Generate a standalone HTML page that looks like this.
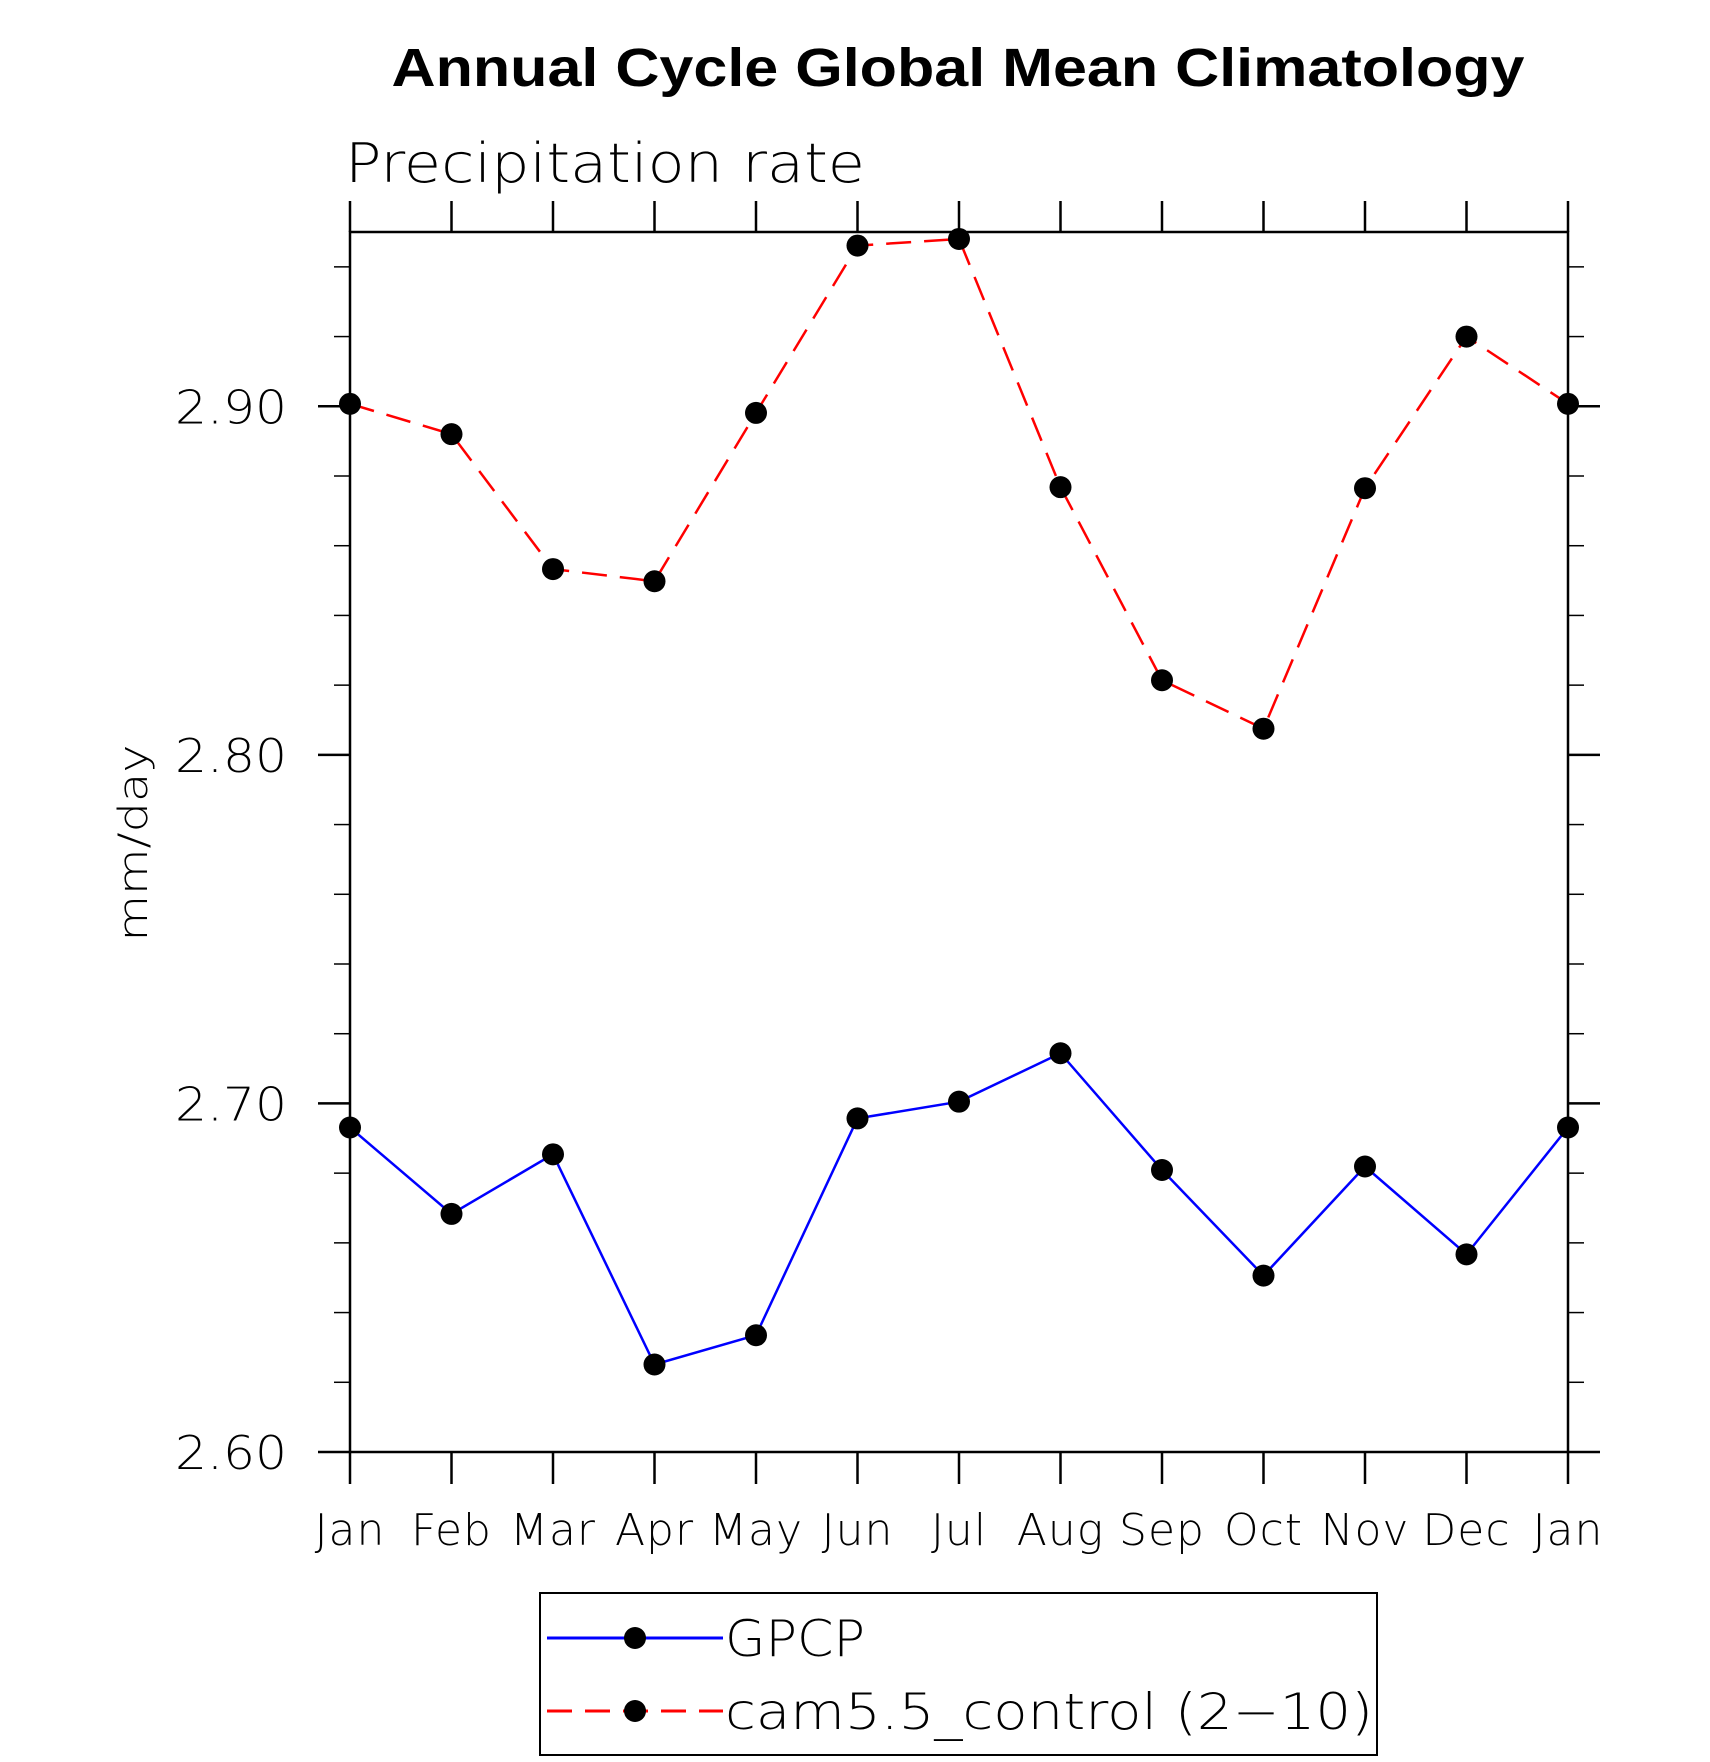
<!DOCTYPE html>
<html><head><meta charset="utf-8"><style>
html,body{margin:0;padding:0;background:#fff;}
svg{display:block;}
text{font-family:"Liberation Sans","DejaVu Sans",sans-serif;}
.thin{font-family:"DejaVu Sans","Liberation Sans",sans-serif;font-weight:200;}
</style></head><body>
<svg id="chart" width="1710" height="1762" viewBox="0 0 1710 1762" xmlns="http://www.w3.org/2000/svg">
<text x="958" y="86" text-anchor="middle" font-size="54" font-weight="bold" textLength="1133" lengthAdjust="spacingAndGlyphs">Annual Cycle Global Mean Climatology</text>
<text class="thin" x="345" y="182" font-size="54" fill="#000" textLength="520" lengthAdjust="spacingAndGlyphs">Precipitation rate</text>
<text class="thin" transform="translate(147,843) rotate(-90)" text-anchor="middle" font-size="40" fill="#000" textLength="197" lengthAdjust="spacingAndGlyphs">mm/day</text>
<g id="axes"></g>
<g id="series"></g>
<g>
<rect x="540" y="1593" width="837" height="162" fill="none" stroke="#000" stroke-width="2"/>
<g>
<line x1="547" y1="1638" x2="723" y2="1638" stroke="#0000ff" stroke-width="3"/>
<circle cx="635" cy="1638" r="11" fill="#000"/>
<text class="thin" x="725" y="1656" font-size="50" fill="#000" textLength="140" lengthAdjust="spacingAndGlyphs">GPCP</text>
</g>
<g>
<line x1="547" y1="1711" x2="723" y2="1711" stroke="#ff0000" stroke-width="3" stroke-dasharray="25 13"/>
<circle cx="635" cy="1711" r="11" fill="#000"/>
<text class="thin" x="725" y="1729" font-size="50" fill="#000" textLength="648" lengthAdjust="spacingAndGlyphs">cam5.5_control (2−10)</text>
</g>
</g>
</svg>
<script>
const months = ["Jan","Feb","Mar","Apr","May","Jun","Jul","Aug","Sep","Oct","Nov","Dec","Jan"];
const gpcp = [2.6931,2.6683,2.6854,2.6251,2.6335,2.6957,2.7005,2.7144,2.6809,2.6506,2.6819,2.6567,2.6931];
const cam = [2.9007,2.8920,2.8533,2.8498,2.8981,2.9461,2.9480,2.8768,2.8214,2.8075,2.8765,2.9200,2.9007];
const yTickLabels = ["2.60","2.70","2.80","2.90"];
const yMin = 2.6, yMax = 2.95;

const NS = "http://www.w3.org/2000/svg";
const L = 350, R = 1568, T = 232, B = 1452;
function xs(i){ return L + (R - L) * i / (months.length - 1); }
function ys(v){ return B - (v - yMin) / (yMax - yMin) * (B - T); }
function mk(tag, attrs, parent){
  const e = document.createElementNS(NS, tag);
  for (const k in attrs) e.setAttribute(k, attrs[k]);
  parent.appendChild(e);
  return e;
}
const axes = document.getElementById('axes');
const series = document.getElementById('series');

const frame = mk('rect', {x:L, y:T, width:R-L, height:B-T, fill:'none', stroke:'#000', 'stroke-width':2.5}, axes);



months.forEach((m, i) => {
  const x = xs(i);
  const tb = mk('line', {x1:x, y1:B, x2:x, y2:B+32, stroke:'#000', 'stroke-width':2.5}, axes);
  
  
  const tt = mk('line', {x1:x, y1:T, x2:x, y2:T-31, stroke:'#000', 'stroke-width':2.5}, axes);
  
  
  const lb = mk('text', {class:'thin', x:x, y:1545, 'text-anchor':'middle', 'font-size':44, fill:'#000', 'letter-spacing':1}, axes);
  lb.textContent = m;
  
  
});

for (let k = 0; k <= 17; k++) {
  const v = yMin + k * 0.02;
  if (v > yMax + 1e-9) break;
  const y = ys(v);
  const a = mk('line', {x1:L-16, y1:y, x2:L, y2:y, stroke:'#000', 'stroke-width':1.5}, axes);
  
  
  const b = mk('line', {x1:R, y1:y, x2:R+16, y2:y, stroke:'#000', 'stroke-width':1.5}, axes);
  
  
}
yTickLabels.forEach(t => {
  const y = ys(parseFloat(t));
  const a = mk('line', {x1:L-32, y1:y, x2:L, y2:y, stroke:'#000', 'stroke-width':2.5}, axes);
  
  
  const b = mk('line', {x1:R, y1:y, x2:R+32, y2:y, stroke:'#000', 'stroke-width':2.5}, axes);
  
  
  const lb = mk('text', {class:'thin', x:287, y:y+17, 'text-anchor':'end', 'font-size':46, fill:'#000', textLength:112, lengthAdjust:'spacingAndGlyphs'}, axes);
  lb.textContent = t;
  
  
});

function drawSeries(vals, color, dash, name){
  const pts = vals.map((v, i) => xs(i) + ',' + ys(v)).join(' ');
  const pl = mk('polyline', {points:pts, fill:'none', stroke:color, 'stroke-width':2.5, 'stroke-dasharray':dash}, series);
  
  
  vals.forEach((v, i) => {
    const c = mk('circle', {cx:xs(i), cy:ys(v), r:11, fill:'#000'}, series);
    
    
  });
}
drawSeries(gpcp, '#0000ff', 'none', 'gpcp');
drawSeries(cam, '#ff0000', '25 13', 'cam');
</script>
</body></html>
